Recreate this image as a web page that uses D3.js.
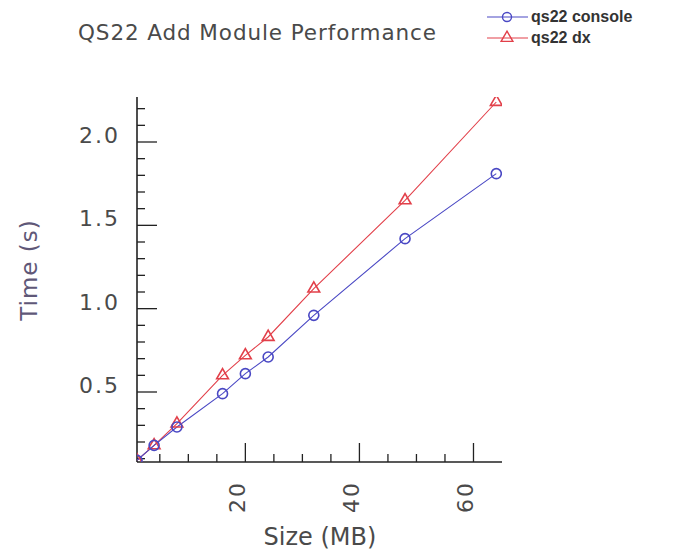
<!DOCTYPE html>
<html>
<head>
<meta charset="utf-8">
<script src="https://cdn.jsdelivr.net/npm/d3@7"></script>
<style>
  body { margin: 0; background: #fff; }
  text { font-family: "DejaVu Sans", sans-serif; }
</style>
</head>
<body>
<svg id="main-svg" width="681" height="553"></svg>
<script>
// data
var sizesMB = [1, 4, 8, 16, 20, 24, 32, 48, 64];
var consoleTimes = [0.09, 0.18, 0.29, 0.49, 0.61, 0.71, 0.96, 1.42, 1.81];
var dxTimes = [0.09, 0.18, 0.31, 0.60, 0.72, 0.83, 1.12, 1.65, 2.24];
var seriesNames = ["qs22 console", "qs22 dx"];
var xTickLabels = [20, 40, 60];
var yTickLabels = [0.5, 1.0, 1.5, 2.0];

var blue = '#4a48c4';
var red = '#e2404a';
var ink = '#4a4a4a';

var svg = d3.select('#main-svg');

// scales
var x = d3.scaleLinear().domain([1, 65]).range([137, 502]);
var y = d3.scaleLinear().domain([0.08, 2.27]).range([462, 97]);

// clip the markers to the plot box, like the original
svg.append('clipPath').attr('id', 'plot-clip')
  .append('rect')
  .attr('x', x.range()[0]).attr('y', y.range()[1])
  .attr('width', x.range()[1] - x.range()[0])
  .attr('height', y.range()[0] - y.range()[1]);

// title
svg.append('text')
  .attr('x', 78).attr('y', 40)
  .attr('textLength', 358)
  .style('font-size', '21.5px')
  .style('fill', ink)
  .text('QS22 Add Module Performance');

// y axis, ticks point inward
var yMinor = d3.range(1, 23).map((i) => i / 10);
var yAxis = svg.append('g').attr('transform', `translate(${x(1)},0)`);
yAxis.append('line')
  .attr('y1', y.range()[0]).attr('y2', y.range()[1])
  .attr('stroke', '#222').attr('stroke-width', 1.6);
yAxis.selectAll('.minor').data(yMinor).enter().append('line')
  .attr('y1', (d) => y(d)).attr('y2', (d) => y(d))
  .attr('x2', (d) => (Math.round(d * 10) % 5 == 0) ? 20 : 8)
  .attr('stroke', '#222').attr('stroke-width', 1.3);
yAxis.selectAll('.lbl').data(yTickLabels).enter().append('text')
  .attr('x', -17).attr('y', (d) => y(d) + 1)
  .attr('text-anchor', 'end')
  .style('font-size', '22px')
  .style('letter-spacing', '2px')
  .style('fill', ink)
  .text((d) => d.toFixed(1));

// x axis, ticks point up
var xMinor = d3.range(5, 61, 5);
var xAxis = svg.append('g').attr('transform', `translate(0,${y(0.08)})`);
xAxis.append('line')
  .attr('x1', x.range()[0]).attr('x2', x.range()[1])
  .attr('stroke', '#222').attr('stroke-width', 1.6);
xAxis.selectAll('.minor').data(xMinor).enter().append('line')
  .attr('x1', (d) => x(d)).attr('x2', (d) => x(d))
  .attr('y2', (d) => (d % 20 == 0) ? -19 : -8)
  .attr('stroke', '#222').attr('stroke-width', 1.3);
xAxis.selectAll('.lbl').data(xTickLabels).enter().append('text')
  .attr('transform', (d) => `translate(${x(d)},51) rotate(-90)`)
  .style('font-size', '22px')
  .style('letter-spacing', '2px')
  .style('fill', ink)
  .text((d) => d);

// axis titles
svg.append('text')
  .attr('transform', 'translate(37,270) rotate(-90)')
  .attr('text-anchor', 'middle')
  .style('font-size', '23px')
  .style('letter-spacing', '1px')
  .style('fill', '#5f5878')
  .text('Time (s)');
svg.append('text')
  .attr('x', 320).attr('y', 545)
  .attr('text-anchor', 'middle')
  .style('font-size', '24px')
  .style('fill', ink)
  .text('Size (MB)');

// lines + markers
var line = d3.line().x((d) => x(d[0])).y((d) => y(d[1]));
var consoleData = d3.zip(sizesMB, consoleTimes);
var dxData = d3.zip(sizesMB, dxTimes);

var tri = d3.symbol().type(d3.symbolTriangle).size(60);
var plot = svg.append('g').attr('clip-path', 'url(#plot-clip)');

plot.append('path').datum(dxData)
  .attr('d', line).attr('fill', 'none').attr('stroke', red).attr('stroke-width', 1.1);
plot.append('path').datum(consoleData)
  .attr('d', line).attr('fill', 'none').attr('stroke', blue).attr('stroke-width', 1.1);

plot.append('g').selectAll('path').data(dxData).enter().append('path')
  .attr('d', tri)
  .attr('transform', (d) => `translate(${x(d[0])},${y(d[1])})`)
  .attr('fill', 'none').attr('stroke', red).attr('stroke-width', 1.6);
plot.append('g').selectAll('circle').data(consoleData).enter().append('circle')
  .attr('cx', (d) => x(d[0])).attr('cy', (d) => y(d[1]))
  .attr('r', 5)
  .attr('fill', 'none').attr('stroke', blue).attr('stroke-width', 1.6);

// legend
var legend = svg.append('g').attr('transform', 'translate(487,0)');
var legendRows = legend.selectAll('g').data(seriesNames).enter().append('g')
  .attr('transform', (d, i) => `translate(0,${17 + i * 21})`);
legendRows.append('line')
  .attr('x2', 41)
  .attr('stroke', (d, i) => i ? red : blue).attr('stroke-width', 1.2);
legendRows.each(function(d, i) {
  var g = d3.select(this);
  if (i == 0) {
    g.append('circle').attr('cx', 20).attr('r', 4.5)
      .attr('fill', 'none').attr('stroke', blue).attr('stroke-width', 1.4);
  } else {
    g.append('path').attr('d', tri).attr('transform', 'translate(20,0)')
      .attr('fill', 'none').attr('stroke', red).attr('stroke-width', 1.4);
  }
});
legendRows.append('text')
  .attr('x', 44).attr('y', 5)
  .style('font-family', '"Liberation Sans", Arial, sans-serif')
  .style('font-size', '16px')
  .style('font-weight', 'bold')
  .style('fill', '#333')
  .text((d) => d);
</script>
</body>
</html>
